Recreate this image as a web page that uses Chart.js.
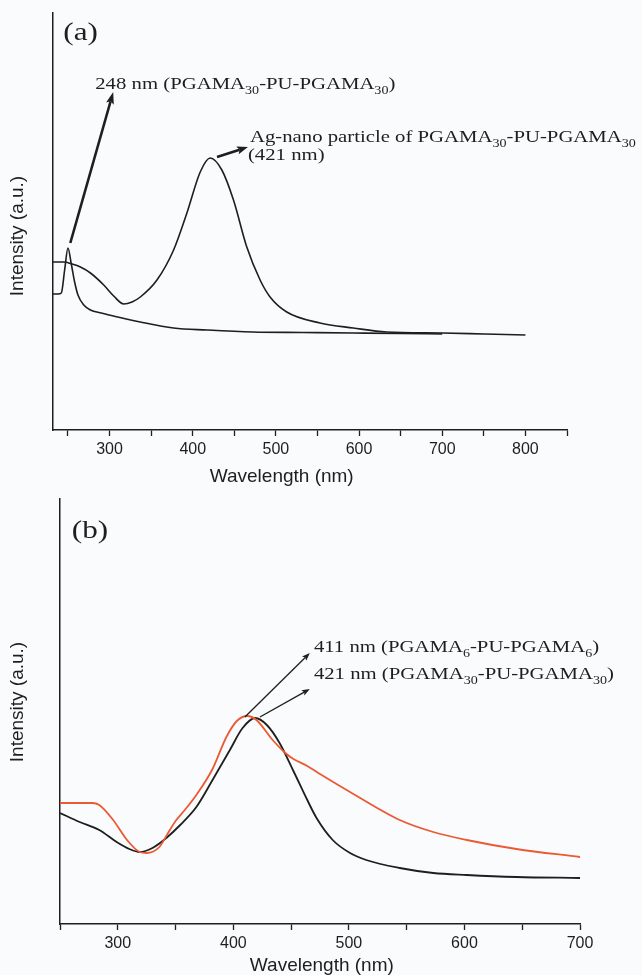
<!DOCTYPE html>
<html>
<head>
<meta charset="utf-8">
<script src="https://cdn.jsdelivr.net/npm/chart.js@4.4.0/dist/chart.umd.min.js"></script>
<style>
  html, body { margin: 0; padding: 0; background: #fafbfc; }
  canvas { display: block; }
</style>
</head>
<body>
<canvas id="chartA" width="642" height="488"></canvas>
<canvas id="chartB" width="642" height="487"></canvas>
<script>
// panel (a): bare polymer and its silver nanoparticles
const wlPolymerA = [232, 238, 242, 246, 250, 254, 258, 262, 269, 277, 290, 310, 337, 377, 417, 472, 533, 593, 650, 700];
const intPolymerA = [1.36, 1.36, 1.37, 1.60, 1.82, 1.66, 1.48, 1.35, 1.25, 1.20, 1.17, 1.13, 1.08, 1.02, 1.00, 0.98, 0.975, 0.97, 0.965, 0.96];
const wlSilverA = [232, 245, 255, 265, 277, 293, 305, 317, 327, 337, 357, 377, 393, 409, 421, 435, 449, 465, 481, 493, 513, 553, 593, 633, 700, 750, 800];
const intSilverA = [1.68, 1.68, 1.66, 1.63, 1.57, 1.45, 1.34, 1.26, 1.28, 1.33, 1.50, 1.80, 2.17, 2.58, 2.72, 2.60, 2.30, 1.83, 1.50, 1.33, 1.18, 1.07, 1.02, 0.98, 0.97, 0.96, 0.95];

// panel (b): silver nanoparticles of the two block lengths
const wlPgama30B = [250, 267, 284, 299, 310, 319, 330, 342, 354, 368, 382, 397, 408, 419, 429, 440, 452, 464, 472, 486, 501, 515, 544, 573, 602, 645, 700];
const intPgama30B = [1.11, 1.02, 0.94, 0.82, 0.75, 0.72, 0.76, 0.86, 0.99, 1.17, 1.44, 1.74, 1.96, 2.06, 1.99, 1.81, 1.53, 1.24, 1.06, 0.84, 0.71, 0.64, 0.56, 0.51, 0.49, 0.47, 0.46];
const wlPgama6B = [250, 278, 284, 296, 308, 319, 325, 336, 343, 350, 358, 368, 382, 394, 403, 412, 420, 434, 445, 452, 464, 475, 501, 544, 573, 602, 645, 700];
const intPgama6B = [1.21, 1.21, 1.19, 1.04, 0.84, 0.72, 0.71, 0.77, 0.90, 1.03, 1.14, 1.29, 1.55, 1.87, 2.03, 2.08, 2.04, 1.84, 1.71, 1.65, 1.58, 1.50, 1.32, 1.04, 0.92, 0.84, 0.75, 0.67];

// x tick positions (labels only on the hundreds)
const ticksA = [250, 300, 350, 400, 450, 500, 550, 600, 650, 700, 750, 800, 850];
const ticksB = [250, 300, 350, 400, 450, 500, 550, 600, 650, 700];

const INK = '#1e1e1e';
const SANS = "'Liberation Sans', Arial, sans-serif";
const SERIF = "'Liberation Serif', 'Times New Roman', serif";

function toPoints(xs, ys) {
  return xs.map((x, i) => ({ x: x, y: ys[i] }));
}

// text with "_30" style subscripts, stretched a bit sideways like the original
function drawRichText(ctx, text, px, py, size, stretch) {
  const parts = text.split(/_(\d+)/);
  ctx.save();
  ctx.translate(px, py);
  ctx.scale(stretch, 1);
  ctx.fillStyle = INK;
  ctx.textBaseline = 'alphabetic';
  let cx = 0;
  parts.forEach((part, i) => {
    const sub = i % 2 === 1;
    ctx.font = (sub ? size * 0.68 : size) + 'px ' + SERIF;
    ctx.fillText(part, cx, sub ? size * 0.3 : 0);
    cx += ctx.measureText(part).width;
  });
  ctx.restore();
}

function drawArrow(ctx, x1, y1, x2, y2, width, headLen, headW) {
  const ang = Math.atan2(y2 - y1, x2 - x1);
  ctx.save();
  ctx.strokeStyle = INK;
  ctx.fillStyle = INK;
  ctx.lineWidth = width;
  ctx.beginPath();
  ctx.moveTo(x1, y1);
  ctx.lineTo(x2 - Math.cos(ang) * headLen * 0.8, y2 - Math.sin(ang) * headLen * 0.8);
  ctx.stroke();
  ctx.translate(x2, y2);
  ctx.rotate(ang);
  ctx.beginPath();
  ctx.moveTo(0, 0);
  ctx.lineTo(-headLen, headW / 2);
  ctx.lineTo(-headLen * 0.8, 0);
  ctx.lineTo(-headLen, -headW / 2);
  ctx.closePath();
  ctx.fill();
  ctx.restore();
}

// arrows, panel letter, peak labels and the two axis titles
function notesPlugin(notes) {
  return {
    id: 'notes',
    afterDraw(chart) {
      const { ctx, chartArea, scales: { x, y } } = chart;
      notes.arrows.forEach((a) => {
        drawArrow(ctx, x.getPixelForValue(a.from[0]), y.getPixelForValue(a.from[1]),
          x.getPixelForValue(a.to[0]), y.getPixelForValue(a.to[1]), a.width, a.head[0], a.head[1]);
      });
      notes.labels.forEach((lb) => {
        drawRichText(ctx, lb.text, x.getPixelForValue(lb.at[0]), y.getPixelForValue(lb.at[1]), lb.size, lb.stretch);
      });

      ctx.save();
      ctx.fillStyle = INK;
      ctx.font = '19px ' + SANS;
      ctx.textAlign = 'center';
      ctx.textBaseline = 'middle';
      ctx.fillText('Wavelength (nm)', x.getPixelForValue(notes.xTitleAt), chartArea.bottom + notes.xTitleGap);
      ctx.translate(18, y.getPixelForValue(notes.yTitleAt));
      ctx.rotate(-Math.PI / 2);
      ctx.fillText('Intensity (a.u.)', 0, 0);
      ctx.restore();
    }
  };
}

function makeScales(xMin, xMax, ticks, yMax, yAxisWidth, xAxisHeight) {
  return {
    x: {
      type: 'linear',
      min: xMin,
      max: xMax,
      afterBuildTicks: (s) => { s.ticks = ticks.map((v) => ({ value: v })); },
      afterFit: (s) => { s.height = xAxisHeight; },
      ticks: {
        autoSkip: false,
        maxRotation: 0,
        padding: 4,
        color: INK,
        font: { family: SANS, size: 16 },
        callback: (v) => (v % 100 === 0 ? v : '')
      },
      grid: { display: true, drawOnChartArea: false, drawTicks: true, tickLength: 6, tickColor: INK, tickWidth: 1.3 },
      border: { display: true, color: INK, width: 1.5 }
    },
    y: {
      type: 'linear',
      min: 0,
      max: yMax,
      afterFit: (s) => { s.width = yAxisWidth; },
      ticks: { display: false },
      grid: { display: false },
      border: { display: true, color: INK, width: 1.5 }
    }
  };
}

const baseOptions = {
  responsive: false,
  animation: false,
  events: [],
  plugins: { legend: { display: false }, tooltip: { enabled: false } }
};

const notesA = {
  xTitleAt: 507,
  xTitleGap: 47,
  yTitleAt: 1.94,
  arrows: [
    { from: [252.8, 1.87], to: [304.4, 3.38], width: 2.6, head: [12, 8] },
    { from: [429.2, 2.73], to: [466.4, 2.83], width: 2.6, head: [11, 8] }
  ],
  labels: [
    { text: '(a)', at: [244.4, 3.9], size: 26, stretch: 1.2 },
    { text: '248 nm (PGAMA_30-PU-PGAMA_30)', at: [282.8, 3.41], size: 17, stretch: 1.22 },
    { text: 'Ag-nano particle of PGAMA_30-PU-PGAMA_30', at: [468.8, 2.88], size: 17, stretch: 1.22 },
    { text: '(421 nm)', at: [466.4, 2.70], size: 17, stretch: 1.22 }
  ]
};

const notesB = {
  xTitleAt: 476.6,
  xTitleGap: 42,
  yTitleAt: 2.22,
  arrows: [
    { from: [410, 2.07], to: [466.2, 2.71], width: 1.3, head: [8, 6] },
    { from: [423, 2.07], to: [466.2, 2.35], width: 1.3, head: [8, 6] }
  ],
  labels: [
    { text: '(b)', at: [260.2, 3.86], size: 26, stretch: 1.2 },
    { text: '411 nm (PGAMA_6-PU-PGAMA_6)', at: [469.7, 2.72], size: 17, stretch: 1.22 },
    { text: '421 nm (PGAMA_30-PU-PGAMA_30)', at: [469.7, 2.45], size: 17, stretch: 1.22 }
  ]
};

new Chart(document.getElementById('chartA'), {
  type: 'line',
  data: {
    datasets: [
      { data: toPoints(wlPolymerA, intPolymerA), borderColor: INK, borderWidth: 1.6, pointRadius: 0, cubicInterpolationMode: 'monotone', fill: false },
      { data: toPoints(wlSilverA, intSilverA), borderColor: INK, borderWidth: 1.6, pointRadius: 0, cubicInterpolationMode: 'monotone', fill: false }
    ]
  },
  options: Object.assign({}, baseOptions, {
    layout: { padding: { top: 13, right: 75, bottom: 0, left: 0 } },
    scales: makeScales(232, 850, ticksA, 4.17, 53, 58)
  }),
  plugins: [notesPlugin(notesA)]
});

new Chart(document.getElementById('chartB'), {
  type: 'line',
  data: {
    datasets: [
      { data: toPoints(wlPgama6B, intPgama6B), borderColor: '#ea5a35', borderWidth: 1.8, pointRadius: 0, cubicInterpolationMode: 'monotone', fill: false },
      { data: toPoints(wlPgama30B, intPgama30B), borderColor: INK, borderWidth: 1.8, pointRadius: 0, cubicInterpolationMode: 'monotone', fill: false }
    ]
  },
  options: Object.assign({}, baseOptions, {
    layout: { padding: { top: 11, right: 62, bottom: 0, left: 0 } },
    scales: makeScales(250, 700, ticksB, 4.25, 60, 51)
  }),
  plugins: [notesPlugin(notesB)]
});
</script>
</body>
</html>
